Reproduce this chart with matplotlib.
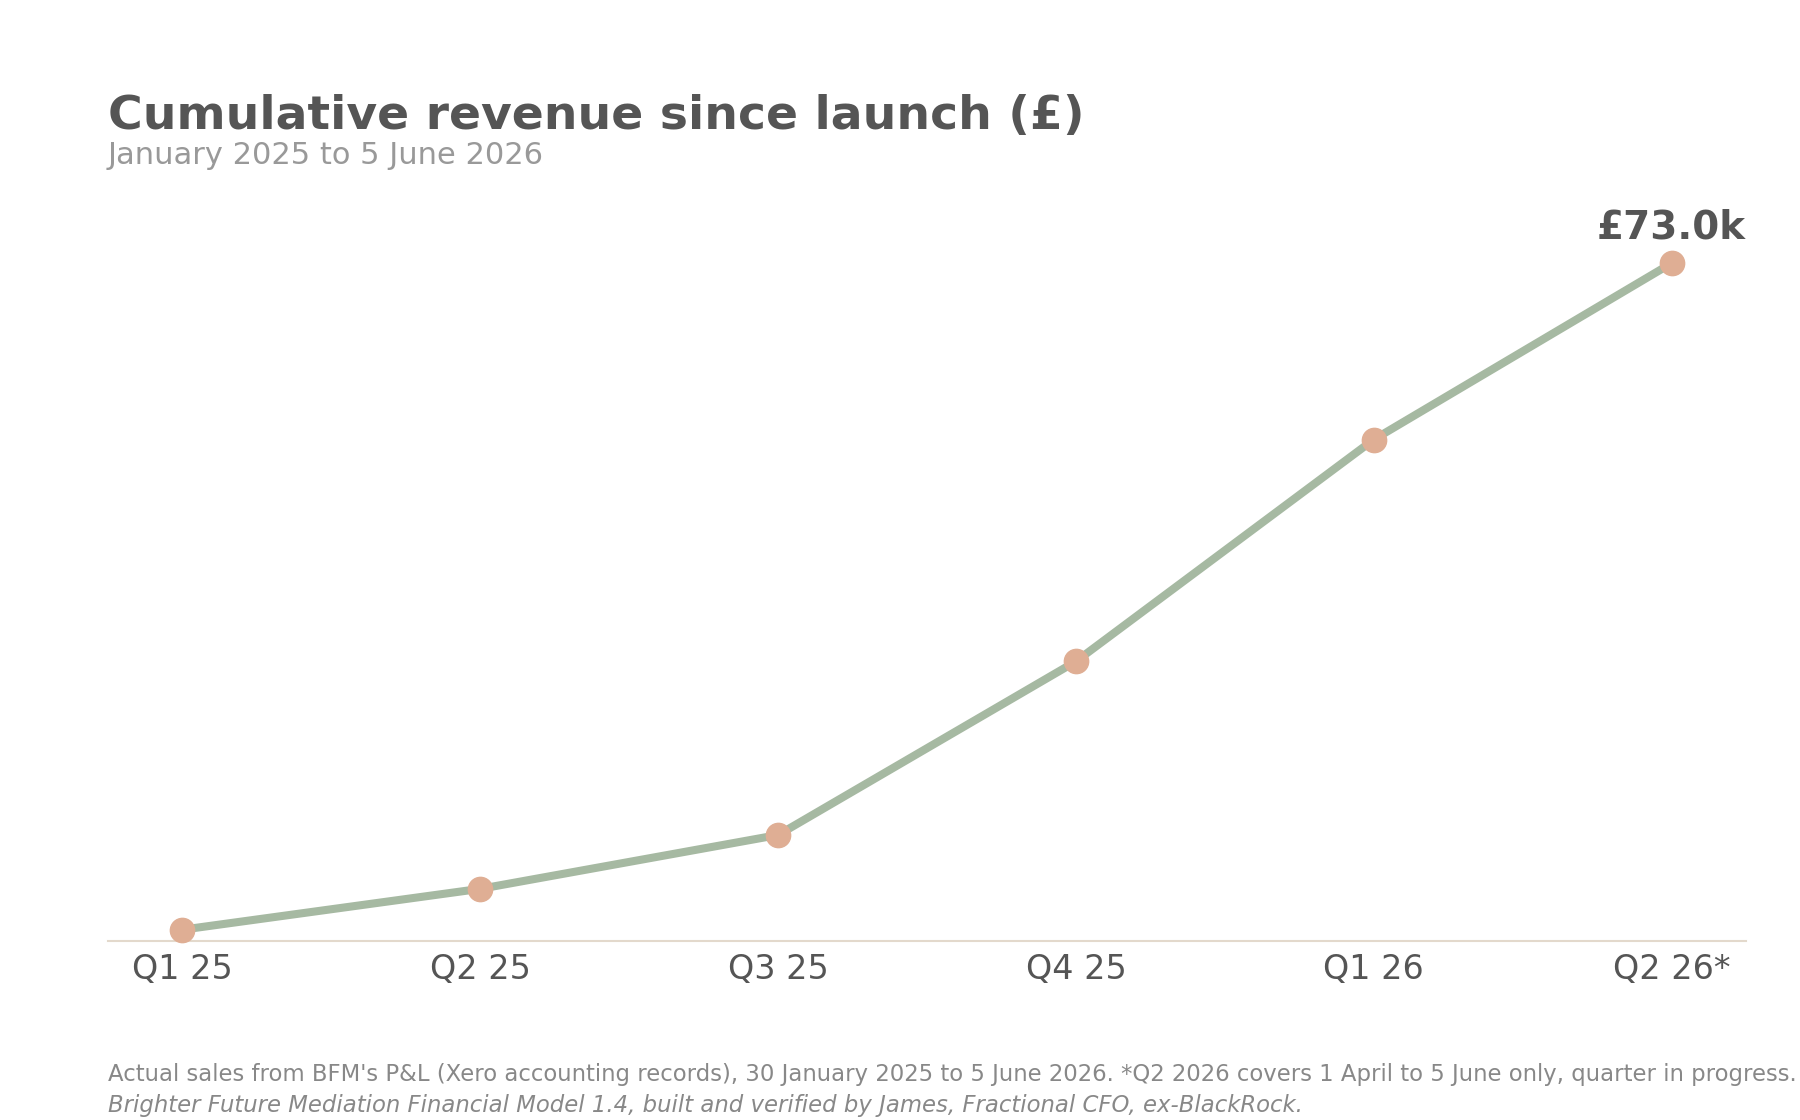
import matplotlib
matplotlib.use("Agg")
import matplotlib.pyplot as plt

categories = ["Q1 25", "Q2 25", "Q3 25", "Q4 25", "Q1 26", "Q2 26*"]
cumulative_k = [1.2, 5.6, 11.4, 30.1, 54.0, 73.0]
title = "Cumulative revenue since launch (£)"
subtitle = "January 2025 to 5 June 2026"
note1 = ("Actual sales from BFM's P&L (Xero accounting records), 30 January 2025 to 5 June 2026. "
         "*Q2 2026 covers 1 April to 5 June only, quarter in progress.")
note2 = "Brighter Future Mediation Financial Model 1.4, built and verified by James, Fractional CFO, ex-BlackRock."

plt.rcParams['font.family'] = ['DejaVu Sans']

fig = plt.figure(figsize=(18, 11.2), dpi=100)
ax = fig.add_axes([0.06, 0.16, 0.91, 0.663])

x = list(range(len(categories)))
ax.plot(x, cumulative_k, color="#a6b9a2", linewidth=5.8, solid_capstyle="round", zorder=2)
ax.plot(x, cumulative_k, linestyle="none", marker="o", markersize=17.5,
        markerfacecolor="#dfae94", markeredgecolor="#dfae94", zorder=3, clip_on=False)

ax.annotate(f"£{cumulative_k[-1]:.1f}k", xy=(x[-1], cumulative_k[-1]), xytext=(0, 12),
            textcoords="offset points", ha="center", va="bottom",
            fontsize=28, fontweight="bold", color="#555555")

ax.set_xlim(-0.25, len(categories) - 0.75)
ax.set_ylim(0, 80)
ax.set_xticks(x)
ax.set_xticklabels(categories)
ax.tick_params(axis="x", length=0, pad=9, labelsize=24, labelcolor="#555555")
ax.set_yticks([])
for s in ["top", "right", "left"]:
    ax.spines[s].set_visible(False)
ax.spines["bottom"].set_color("#e3d9cc")
ax.spines["bottom"].set_linewidth(1.5)

fig.text(0.06, 0.885, title, fontsize=34, fontweight="bold", color="#555555", ha="left", va="baseline")
fig.text(0.06, 0.854, subtitle, fontsize=22, color="#999999", ha="left", va="baseline")
fig.text(0.06, 0.035, note1, fontsize=16.4, color="#888888", ha="left", va="baseline")
fig.text(0.06, 0.0075, note2, fontsize=16.4, color="#888888", ha="left", va="baseline", style="italic")

fig.savefig("out.png", dpi=100, facecolor="white")
